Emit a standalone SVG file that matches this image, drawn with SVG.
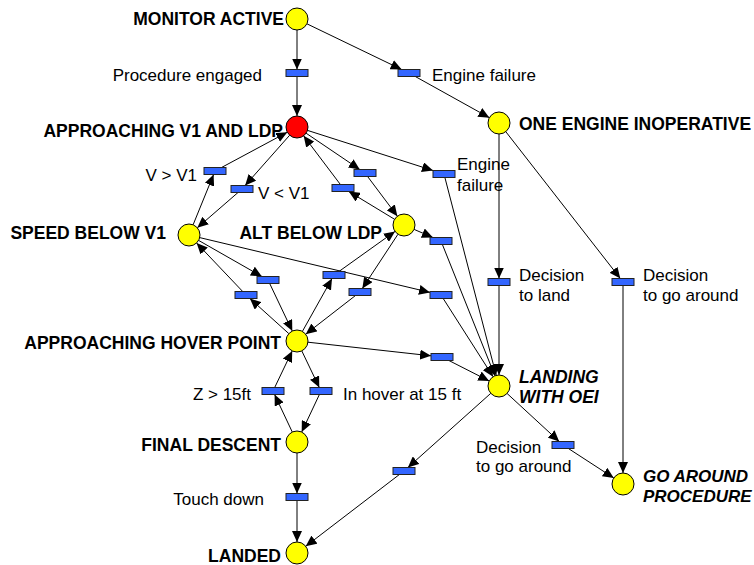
<svg xmlns="http://www.w3.org/2000/svg" width="754" height="565" viewBox="0 0 754 565">
<style>
.pl{fill:#FFFF00;stroke:#000;stroke-width:1}
.red{fill:#FF0000;stroke:#000;stroke-width:1}
.tr{fill:#3366FF;stroke:#222;stroke-width:1}
.arc{stroke:#000;stroke-width:1;fill:none;marker-end:url(#ah)}
.b{font-family:"Liberation Sans",Arial,sans-serif;font-weight:bold;font-size:17.5px;fill:#000}
.bi{font-family:"Liberation Sans",Arial,sans-serif;font-weight:bold;font-style:italic;font-size:17.5px;fill:#000}
.r{font-family:"Liberation Sans",Arial,sans-serif;font-size:17px;fill:#000}
.e{text-anchor:end}
</style>
<defs>
<marker id="ah" markerUnits="userSpaceOnUse" markerWidth="11" markerHeight="10" refX="11" refY="5" orient="auto" viewBox="0 0 11 10">
<path d="M0,0 L11,5 L0,10 z" fill="#000"/>
</marker>
</defs>
<rect width="754" height="565" fill="#fff"/>
<g id="connectors">
<line class="arc" x1="297" y1="30" x2="297" y2="69.5"/>
<line class="arc" x1="297" y1="76.5" x2="297" y2="116"/>
<line class="arc" x1="306.9" y1="23.8" x2="401.7" y2="69.5"/>
<line class="arc" x1="415.3" y1="76.5" x2="489.4" y2="117.7"/>
<line class="arc" x1="307.5" y1="130.4" x2="433" y2="170.5"/>
<line class="arc" x1="444.9" y1="177.5" x2="496.2" y2="375.4"/>
<line class="arc" x1="499" y1="134" x2="499" y2="278.5"/>
<line class="arc" x1="499" y1="285.5" x2="499" y2="375"/>
<line class="arc" x1="505.8" y1="131.7" x2="620.3" y2="278.5"/>
<line class="arc" x1="623" y1="285.5" x2="623" y2="473"/>
<line class="arc" x1="193.1" y1="224.8" x2="213.6" y2="174.5"/>
<line class="arc" x1="221.5" y1="167.5" x2="287.3" y2="132.2"/>
<line class="arc" x1="289.7" y1="135.2" x2="245.1" y2="185.5"/>
<line class="arc" x1="238" y1="192.5" x2="197.3" y2="227.8"/>
<line class="arc" x1="306.1" y1="133.2" x2="359.8" y2="169.5"/>
<line class="arc" x1="367.6" y1="176.5" x2="397.4" y2="216.2"/>
<line class="arc" x1="394.6" y1="219.3" x2="348.8" y2="191.5"/>
<line class="arc" x1="340.4" y1="184.5" x2="303.6" y2="135.8"/>
<line class="arc" x1="414.1" y1="229.4" x2="432.9" y2="237.5"/>
<line class="arc" x1="442.4" y1="244.5" x2="494.9" y2="375.8"/>
<line class="arc" x1="199.7" y1="237.6" x2="430" y2="292.4"/>
<line class="arc" x1="443.2" y1="298.5" x2="493.1" y2="376.7"/>
<line class="arc" x1="198.6" y1="240.4" x2="261.9" y2="276.5"/>
<line class="arc" x1="269.7" y1="283.5" x2="292.3" y2="331.1"/>
<line class="arc" x1="288.8" y1="333.6" x2="249.9" y2="298.5"/>
<line class="arc" x1="242.7" y1="291.5" x2="196.6" y2="243"/>
<line class="arc" x1="302.4" y1="331.4" x2="332" y2="278.5"/>
<line class="arc" x1="338.9" y1="271.5" x2="395" y2="231.4"/>
<line class="arc" x1="398" y1="234.2" x2="362.3" y2="288.5"/>
<line class="arc" x1="355.5" y1="295.5" x2="305.7" y2="334.2"/>
<line class="arc" x1="307.9" y1="342.2" x2="431" y2="355.8"/>
<line class="arc" x1="448.9" y1="360.5" x2="489.2" y2="381"/>
<line class="arc" x1="301.8" y1="350.9" x2="319.3" y2="387.5"/>
<line class="arc" x1="319.4" y1="394.5" x2="301.7" y2="432.1"/>
<line class="arc" x1="292.3" y1="432.1" x2="274.6" y2="394.5"/>
<line class="arc" x1="274.7" y1="387.5" x2="292.2" y2="350.9"/>
<line class="arc" x1="297" y1="453" x2="297" y2="493.5"/>
<line class="arc" x1="297" y1="500.5" x2="297" y2="542"/>
<line class="arc" x1="490.8" y1="393.3" x2="407.9" y2="467.5"/>
<line class="arc" x1="399.4" y1="474.5" x2="305.7" y2="546.3"/>
<line class="arc" x1="507.1" y1="393.5" x2="559.2" y2="441.5"/>
<line class="arc" x1="568.4" y1="448.5" x2="613.8" y2="478"/>
</g>
<g id="monitor-active"><circle class="pl" cx="297" cy="19" r="11"/><text class="b e" x="284" y="24.5">MONITOR ACTIVE</text></g>
<g id="approaching-v1-ldp"><circle class="red" cx="297" cy="127" r="11"/><text class="b e" x="283" y="137">APPROACHING V1 AND LDP</text></g>
<g id="one-engine-inoperative"><circle class="pl" cx="499" cy="123" r="11"/><text class="b" x="519" y="129.5">ONE ENGINE INOPERATIVE</text></g>
<g id="speed-below-v1"><circle class="pl" cx="189" cy="235" r="11"/><text class="b e" x="166" y="238.5">SPEED BELOW V1</text></g>
<g id="alt-below-ldp"><circle class="pl" cx="404" cy="225" r="11"/><text class="b e" x="382" y="238.5">ALT BELOW LDP</text></g>
<g id="approaching-hover-point"><circle class="pl" cx="297" cy="341" r="11"/><text class="b e" x="281" y="349">APPROACHING HOVER POINT</text></g>
<g id="landing-with-oei"><circle class="pl" cx="499" cy="386" r="11"/><text class="bi" x="519" y="383">LANDING</text><text class="bi" x="519" y="402.5">WITH OEI</text></g>
<g id="final-descent"><circle class="pl" cx="297" cy="442" r="11"/><text class="b e" x="281" y="451">FINAL DESCENT</text></g>
<g id="landed"><circle class="pl" cx="297" cy="553" r="11"/><text class="b e" x="281" y="561.5">LANDED</text></g>
<g id="go-around-procedure"><circle class="pl" cx="623" cy="484" r="11"/><text class="bi" x="643" y="481.5" style="font-size:17px">GO AROUND</text><text class="bi" x="643" y="501.5" style="font-size:17px">PROCEDURE</text></g>
<g id="t-procedure-engaged"><rect class="tr" x="286" y="69.5" width="22" height="7"/><text class="r e" x="262" y="80.5">Procedure engaged</text></g>
<g id="t-engine-failure-1"><rect class="tr" x="398" y="69.5" width="22" height="7"/><text class="r" x="432" y="80.5">Engine failure</text></g>
<g id="t-engine-failure-2"><rect class="tr" x="433" y="170.5" width="22" height="7"/><text class="r" x="457" y="170">Engine</text><text class="r" x="457" y="190.5">failure</text></g>
<g id="t-v-gt-v1"><rect class="tr" x="204" y="167.5" width="22" height="7"/><text class="r e" x="197" y="181">V &gt; V1</text></g>
<g id="t-v-lt-v1"><rect class="tr" x="231" y="185.5" width="22" height="7"/><text class="r" x="258" y="199">V &lt; V1</text></g>
<g id="t-alt-to-appr"><rect class="tr" x="332" y="184.5" width="22" height="7"/></g>
<g id="t-appr-to-alt"><rect class="tr" x="354" y="169.5" width="22" height="7"/></g>
<g id="t-alt-to-landing"><rect class="tr" x="430" y="237.5" width="22" height="7"/></g>
<g id="t-speed-to-hover"><rect class="tr" x="257" y="276.5" width="22" height="7"/></g>
<g id="t-hover-to-speed"><rect class="tr" x="235" y="291.5" width="22" height="7"/></g>
<g id="t-hover-to-alt"><rect class="tr" x="323" y="271.5" width="22" height="7"/></g>
<g id="t-alt-to-hover"><rect class="tr" x="349" y="288.5" width="22" height="7"/></g>
<g id="t-speed-to-landing"><rect class="tr" x="430" y="291.5" width="22" height="7"/></g>
<g id="t-decision-to-land"><rect class="tr" x="488" y="278.5" width="22" height="7"/><text class="r" x="519" y="281">Decision</text><text class="r" x="519" y="301">to land</text></g>
<g id="t-decision-go-around-1"><rect class="tr" x="612" y="278.5" width="22" height="7"/><text class="r" x="643" y="281">Decision</text><text class="r" x="643" y="301">to go around</text></g>
<g id="t-hover-to-landing"><rect class="tr" x="431" y="353.5" width="22" height="7"/></g>
<g id="t-z-gt-15ft"><rect class="tr" x="262" y="387.5" width="22" height="7"/><text class="r e" x="251" y="400">Z &gt; 15ft</text></g>
<g id="t-in-hover-15ft"><rect class="tr" x="310" y="387.5" width="22" height="7"/><text class="r" x="343" y="400">In hover at 15 ft</text></g>
<g id="t-touch-down"><rect class="tr" x="286" y="493.5" width="22" height="7"/><text class="r e" x="264" y="505">Touch down</text></g>
<g id="t-landing-to-landed"><rect class="tr" x="393" y="467.5" width="22" height="7"/></g>
<g id="t-decision-go-around-2"><rect class="tr" x="552" y="441.5" width="22" height="7"/><text class="r" x="476" y="452.5">Decision</text><text class="r" x="476" y="472">to go around</text></g>
</svg>
